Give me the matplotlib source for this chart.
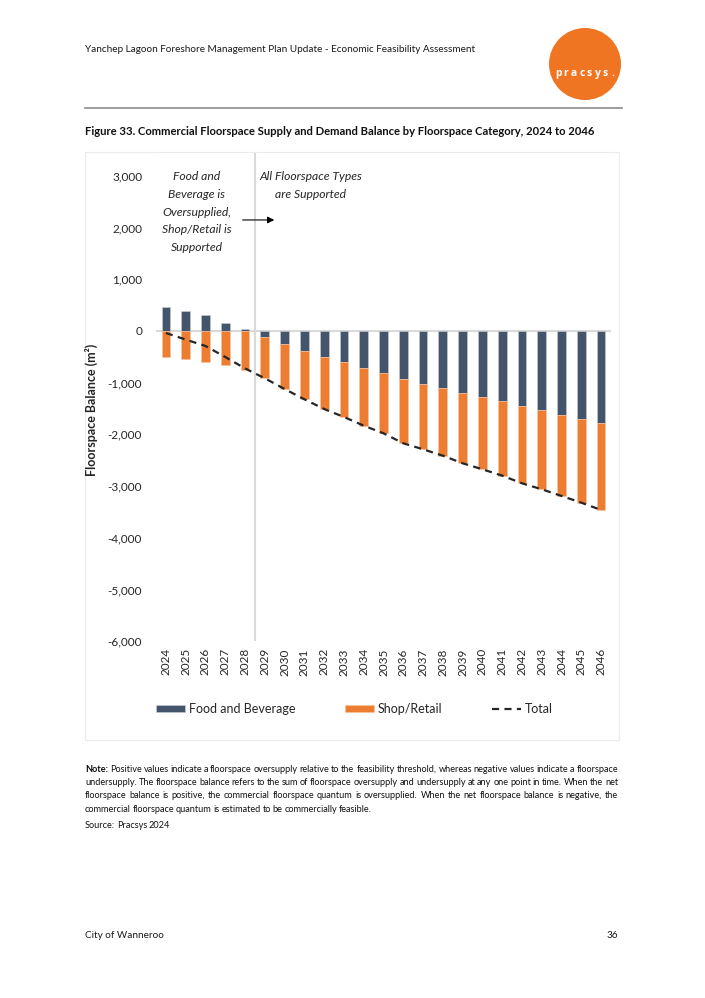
#!/usr/bin/env python3
"""Commercial floorspace supply and demand balance by category, 2024 to 2046."""

import matplotlib

matplotlib.use("Agg")
import matplotlib.pyplot as plt
import numpy as np
from matplotlib.patches import Circle, Rectangle

# ---- data (m2) ----
years = [str(y) for y in range(2024, 2047)]
food_bev = [458, 381, 304, 161, 30, -110, -251, -387, -497, -605, -716, -819,
            -935, -1025, -1109, -1193, -1271, -1360, -1444, -1528, -1618, -1702, -1785]
shop_retail = [-497, -547, -594, -664, -754, -805, -871, -934, -1012, -1058, -1115,
               -1160, -1237, -1263, -1303, -1366, -1404, -1438, -1502, -1534, -1573,
               -1619, -1677]
y_ticks = [3000, 2000, 1000, 0, -1000, -2000, -3000, -4000, -5000, -6000]

NAVY = "#44546A"
ORANGE = "#ED7D31"
TXT = "#262626"
GRID = "#D9D9D9"
FONT = ["Lato", "DejaVu Sans"]

plt.rcParams["font.family"] = FONT

fig = plt.figure(figsize=(7.05, 9.98), dpi=100)

# page overlay in pixel coordinates
page = fig.add_axes([0, 0, 1, 1], zorder=-1)
page.set_xlim(0, 705)
page.set_ylim(998, 0)
page.axis("off")

page.text(85, 49, "Yanchep Lagoon Foreshore Management Plan Update - Economic Feasibility Assessment",
          fontsize=7.2, color="#1a1a1a", va="center")
page.add_patch(Circle((585, 64), 36, color="#F07522", lw=0))
for i, ch in enumerate("pracsys."):
    page.text(558 + i * 7.9, 73, ch, fontsize=7.5, fontweight="bold", color="white",
              ha="center", va="center", family=["Open Sans", "DejaVu Sans"])
page.plot([85, 622], [108, 108], color="#8c8c8c", lw=1.2)
page.text(85, 131, "Figure 33. Commercial Floorspace Supply and Demand Balance by Floorspace Category, 2024 to 2046",
          fontsize=8.1, fontweight="bold", color="#111111", va="center")
page.add_patch(Rectangle((85, 152), 534, 588, fill=False, edgecolor="#EBEBEB", lw=0.8))

# ---- chart ----
ax = fig.add_axes([156 / 705, 1 - 641.2 / 998, 455 / 705, (641.2 - 152.6) / 998])
x = np.arange(len(years))
fb = np.array(food_bev)
sr = np.array(shop_retail)
total = fb + sr

ax.axhline(0, color=GRID, lw=1.5, zorder=1)
ax.axvline(4.5, color=GRID, lw=1.5, zorder=1)
b1 = ax.bar(x, fb, width=0.44, color=NAVY, edgecolor="#c9ced6", lw=0.4, zorder=2)
b2 = ax.bar(x, sr, width=0.44, bottom=np.minimum(fb, 0), color=ORANGE, edgecolor="#f5c6a5",
            lw=0.4, zorder=2)
(ln,) = ax.plot(x, total, color="#262626", lw=1.6, ls=(0, (3.2, 2.4)), zorder=3)

ax.set_xlim(-0.5, len(years) - 0.5)
ax.set_ylim(-6000, 3450)
ax.set_xticks(x)
ax.set_xticklabels(years, rotation=90, fontsize=8.5, color=TXT)
ax.set_yticks(y_ticks)
ax.set_yticklabels([f"{v:,}" for v in y_ticks], fontsize=8.5, color=TXT)
ax.tick_params(axis="y", length=0, pad=10)
ax.tick_params(axis="x", length=0, pad=5)
for s in ax.spines.values():
    s.set_visible(False)

ax.set_ylabel("Floorspace Balance (m²)", fontsize=9, fontweight="bold", color=TXT)
ax.yaxis.set_label_coords(-0.1275, 0.473)

ax.text(1.57, 2300, "Food and\nBeverage is\nOversupplied,\nShop/Retail is\nSupported",
        ha="center", va="center", fontsize=8.7, style="italic", color=TXT, linespacing=1.75)
ax.text(7.33, 2814, "All Floorspace Types\nare Supported",
        ha="center", va="center", fontsize=8.7, style="italic", color=TXT, linespacing=1.75)
ax.annotate("", xy=(5.62, 2147), xytext=(3.74, 2147),
            arrowprops=dict(arrowstyle="-|>", color="black", lw=0.8, mutation_scale=10))

fig.legend([b1, b2, ln], ["Food and Beverage", "Shop/Retail", "Total"], loc="center",
           bbox_to_anchor=(0.503, 1 - 709 / 998), ncol=3, frameon=False, fontsize=9,
           handlelength=2.3, handleheight=0.55, columnspacing=4.0, handletextpad=0.3,
           labelcolor=TXT)

# ---- note, justified by hand ----
renderer = fig.canvas.get_renderer()


def put_line(words, y, x0=85, x1=618, size=6.6, justify=True, bold_first=False):
    objs = []
    for i, w in enumerate(words):
        bold = bold_first and i == 0
        objs.append(page.text(0, y, w, fontsize=size, color="#111111", va="center",
                              fontweight="bold" if bold else "normal"))
    widths = [o.get_window_extent(renderer).width for o in objs]
    if justify and len(words) > 1:
        gap = (x1 - x0 - sum(widths)) / (len(words) - 1)
    else:
        gap = 1.8
    pos = x0
    for o, w in zip(objs, widths):
        o.set_x(pos)
        pos += w + gap


note_lines = [
    "Note: Positive values indicate a floorspace oversupply relative to the feasibility threshold, whereas negative values indicate a floorspace",
    "undersupply.  The floorspace balance refers to the sum of floorspace oversupply and undersupply at any one point in time. When the net",
    "floorspace balance is positive, the commercial floorspace quantum is oversupplied. When the net floorspace balance is negative, the",
    "commercial floorspace quantum is estimated to be commercially feasible.",
]
for i, line in enumerate(note_lines):
    put_line(line.split(), 769 + i * 13.4, justify=i < 3, bold_first=i == 0)
put_line("Source: Pracsys 2024".split(), 826, justify=False)

page.text(85, 935, "City of Wanneroo", fontsize=7.2, color="#1a1a1a", va="center")
page.text(618, 936, "36", fontsize=7.2, color="#1a1a1a", va="center", ha="right")

fig.savefig("out.png", dpi=100)
